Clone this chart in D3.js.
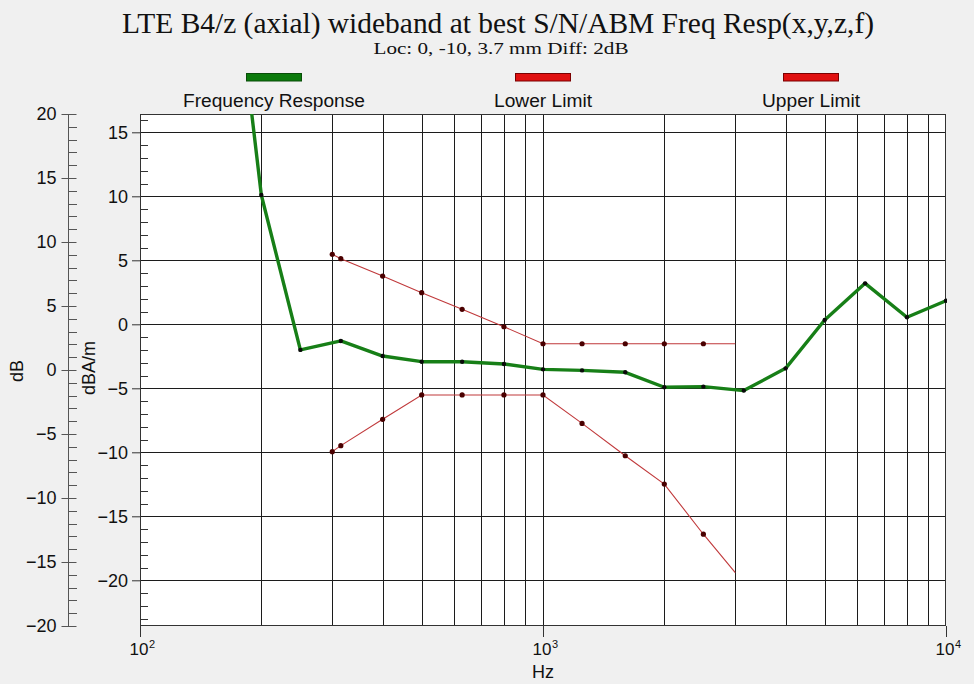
<!DOCTYPE html>
<html>
<head>
<meta charset="utf-8">
<script src="https://cdn.jsdelivr.net/npm/d3@7"></script>
<style>
  html, body { margin: 0; padding: 0; background: #f0f0f0; }
  svg { display: block; }
  text { fill: #111; }
</style>
</head>
<body>
<svg id="chart" width="974" height="684"></svg>
<script>
// Frequency response of the axial field, with its tolerance mask
const freqs = [160, 200, 250, 315, 400, 500, 630, 800, 1000, 1250, 1600, 2000, 2500, 3150, 4000, 5000, 6300, 8000, 10000];
const response = [36, 10.1, -2.0, -1.3, -2.48, -2.92, -2.92, -3.1, -3.52, -3.6, -3.75, -4.92, -4.87, -5.18, -3.44, 0.34, 3.2, 0.55, 1.84];

const limitFreqs = [300, 315, 400, 500, 630, 800, 1000, 1250, 1600, 2000, 2500, 3000];
const upperLimit = [5.47, 5.13, 3.77, 2.47, 1.17, -0.19, -1.52, -1.52, -1.52, -1.52, -1.52, -1.52];
const lowerLimit = [-9.95, -9.48, -7.42, -5.52, -5.52, -5.52, -5.52, -7.74, -10.27, -12.48, -16.4, -19.4];

const legendLabels = ["Frequency Response", "Lower Limit", "Upper Limit"];
const decadeTicks = [100, 1000, 10000];
const decadeExponents = ["2", "3", "4"];
const gridFreqs = [200, 300, 400, 500, 600, 700, 800, 900, 1000, 2000, 3000, 4000, 5000, 6000, 7000, 8000, 9000];
const innerTicks = [15, 10, 5, 0, -5, -10, -15, -20];
const outerTicks = [20, 15, 10, 5, 0, -5, -10, -15, -20];

const svg = d3.select("#chart");
const L = 140, R = 946, T = 114, B = 626;

const x = d3.scaleLog().domain([100, 10000]).range([L, R]);
const yIn = d3.scaleLinear().domain([-23.57, 16.43]).range([B, T]);   // dBA/m
const yOut = d3.scaleLinear().domain([-20, 20]).range([B, T]);        // dB

const sans = "'Liberation Sans', Arial, sans-serif";
const serif = "'Liberation Serif', 'Times New Roman', serif";

// Titles
svg.append("text").attr("x", 498).attr("y", 33).attr("text-anchor", "middle")
  .attr("font-family", serif).attr("font-size", 29)
  .attr("textLength", 752).attr("lengthAdjust", "spacingAndGlyphs")
  .text("LTE B4/z (axial) wideband at best S/N/ABM Freq Resp(x,y,z,f)");
svg.append("text").attr("x", 501).attr("y", 54).attr("text-anchor", "middle")
  .attr("font-family", serif).attr("font-size", 17)
  .attr("textLength", 255).attr("lengthAdjust", "spacingAndGlyphs")
  .text("Loc: 0, -10, 3.7 mm Diff: 2dB");

// Legend
const legendX = [274, 543, 811];
const legendWidths = [182, 98, 98];
const legendFill = ["#0b7a0b", "#e01010", "#e01010"];
const legendStroke = ["#084d08", "#7a0000", "#7a0000"];
legendLabels.forEach((lab, i) => {
  svg.append("rect").attr("x", legendX[i] - 27.5).attr("y", 73.5).attr("width", 55).attr("height", 7.5)
    .attr("fill", legendFill[i]).attr("stroke", legendStroke[i]).attr("stroke-width", 1);
  svg.append("text").attr("x", legendX[i]).attr("y", 107).attr("text-anchor", "middle")
    .attr("font-family", sans).attr("font-size", 18)
    .attr("textLength", legendWidths[i]).attr("lengthAdjust", "spacingAndGlyphs").text(lab);
});

// Plot background
svg.append("rect").attr("x", L).attr("y", T).attr("width", R - L).attr("height", B - T).attr("fill", "#fff");

// Grid
const grid = svg.append("g").attr("stroke", "#1c1c1c").attr("stroke-width", 1).attr("shape-rendering", "crispEdges");
grid.selectAll("line.v").data(gridFreqs).join("line")
  .attr("x1", d => Math.round(x(d)) + 0.5).attr("x2", d => Math.round(x(d)) + 0.5)
  .attr("y1", T).attr("y2", B);
grid.selectAll("line.h").data(innerTicks).join("line")
  .attr("x1", L).attr("x2", R)
  .attr("y1", d => Math.round(yIn(d)) + 0.5).attr("y2", d => Math.round(yIn(d)) + 0.5);

// Plot frame
svg.append("rect").attr("x", L + 0.5).attr("y", T + 0.5).attr("width", R - L - 1).attr("height", B - T - 1)
  .attr("fill", "none").attr("stroke", "#333").attr("stroke-width", 1).attr("shape-rendering", "crispEdges");

// Inner (dBA/m) axis
const innerAxis = svg.append("g").attr("transform", `translate(${L},0)`)
  .call(d3.axisLeft(yIn).tickValues(innerTicks).tickSize(8).tickPadding(4).tickFormat(d3.format("d")));
innerAxis.select(".domain").remove();
innerAxis.selectAll("line").attr("stroke", "#333");
innerAxis.selectAll("text").attr("font-family", sans).attr("font-size", 18).attr("fill", "#111");
const innerMinor = d3.range(-23, 17).filter(v => v % 5 !== 0);
svg.append("g").selectAll("line").data(innerMinor).join("line")
  .attr("x1", L).attr("x2", L + 8)
  .attr("y1", d => Math.round(yIn(d)) + 0.5).attr("y2", d => Math.round(yIn(d)) + 0.5)
  .attr("stroke", "#333").attr("shape-rendering", "crispEdges");

// Outer (dB) axis
const OX = 68.5;
const outerAxis = svg.append("g").attr("transform", `translate(${OX},0)`)
  .call(d3.axisLeft(yOut).tickValues(outerTicks).tickSizeInner(7).tickSizeOuter(0).tickPadding(5).tickFormat(d3.format("d")));
outerAxis.select(".domain").attr("stroke", "#555").attr("d", `M0,${T}V${B}`);
outerAxis.selectAll(".tick line").attr("stroke", "#555").attr("x1", 8);
outerAxis.selectAll("text").attr("font-family", sans).attr("font-size", 18).attr("fill", "#111");
const outerMinor = d3.range(-19, 20).filter(v => v % 5 !== 0);
svg.append("g").selectAll("line").data(outerMinor).join("line")
  .attr("x1", OX).attr("x2", OX + 8)
  .attr("y1", d => Math.round(yOut(d)) + 0.5).attr("y2", d => Math.round(yOut(d)) + 0.5)
  .attr("stroke", "#555").attr("shape-rendering", "crispEdges");

// X axis decade ticks and labels
const xAxis = svg.append("g");
decadeTicks.forEach((f, i) => {
  const px = Math.round(x(f)) + 0.5;
  xAxis.append("line").attr("x1", px).attr("x2", px).attr("y1", B).attr("y2", B + 11)
    .attr("stroke", "#333").attr("shape-rendering", "crispEdges");
  xAxis.append("text").attr("x", x(f) - 1).attr("y", 655).attr("text-anchor", "middle")
    .attr("font-family", sans).attr("font-size", 17).text("10");
  xAxis.append("text").attr("x", x(f) + 9).attr("y", 648)
    .attr("font-family", sans).attr("font-size", 11).text(decadeExponents[i]);
});

// Axis titles
svg.append("text").attr("x", 543).attr("y", 678).attr("text-anchor", "middle")
  .attr("font-family", sans).attr("font-size", 18).text("Hz");
svg.append("text").attr("transform", "translate(23,371) rotate(-90)").attr("text-anchor", "middle")
  .attr("font-family", sans).attr("font-size", 18).text("dB");
svg.append("text").attr("transform", "translate(95,368) rotate(-90)").attr("text-anchor", "middle")
  .attr("font-family", sans).attr("font-size", 18).text("dBA/m");

// Data series
svg.append("clipPath").attr("id", "plotClip").append("rect")
  .attr("x", L).attr("y", T).attr("width", R - L + 1).attr("height", B - T);
const plot = svg.append("g").attr("clip-path", "url(#plotClip)");

const line = d3.line().x(d => x(d[0])).y(d => yIn(d[1]));

[upperLimit, lowerLimit].forEach(vals => {
  const pts = limitFreqs.map((f, i) => [f, vals[i]]);
  plot.append("path").datum(pts).attr("d", line)
    .attr("fill", "none").attr("stroke", "#c0393b").attr("stroke-width", 1.1);
  plot.append("g").selectAll("circle").data(pts.slice(0, -1)).join("circle")
    .attr("cx", d => x(d[0])).attr("cy", d => yIn(d[1])).attr("r", 2.6)
    .attr("fill", "#4a0000");
});

const respPts = freqs.map((f, i) => [f, response[i]]);
plot.append("path").datum(respPts).attr("d", line)
  .attr("fill", "none").attr("stroke", "#177f17").attr("stroke-width", 3.4).attr("stroke-linejoin", "round");
plot.append("g").selectAll("circle").data(respPts).join("circle")
  .attr("cx", d => x(d[0])).attr("cy", d => yIn(d[1])).attr("r", 2.2)
  .attr("fill", "#0a0a0a");
</script>
</body>
</html>
